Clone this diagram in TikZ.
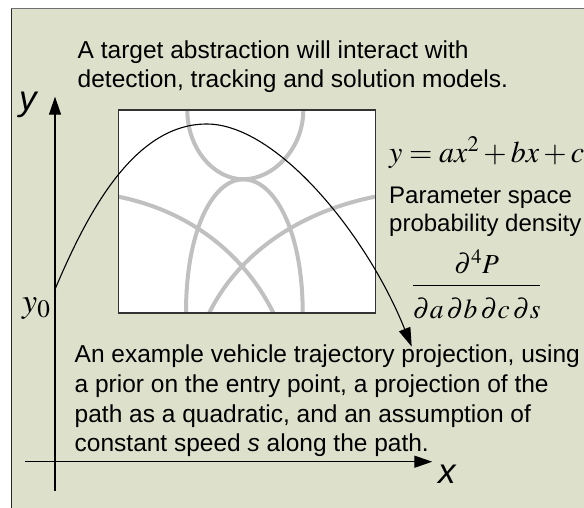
\documentclass[tikz,border=0pt]{standalone}
\usepackage{mathptmx}
\usepackage{fontspec}
\setmainfont{Liberation Sans}
\usetikzlibrary{arrows.meta,positioning}
\definecolor{pbg}{HTML}{DDE0CB}
\definecolor{pgrid}{HTML}{C0C0C0}
\definecolor{pframe}{HTML}{707070}
\tikzset{
  txt/.style={font=\fontsize{24.5}{28.4}\selectfont,align=left,inner sep=0,anchor=base west},
  axis/.style={-{Triangle[length=18pt,width=12pt]},line width=1.3pt},
  band/.style={draw=pgrid,line width=4pt},
  traj/.style={-{Triangle[length=19pt,width=12pt]},line width=1.1pt},
  eqn/.style={inner sep=0},
  lab/.style={font=\fontsize{35}{40}\selectfont\itshape,inner sep=0,anchor=base west},
}

\begin{document}
\begin{tikzpicture}[x=1pt,y=-1pt]
  \useasboundingbox (0,0) rectangle (584,507);
  % --- frame
  \fill[pbg] (11,8.5) rectangle (590,512);
  \draw[pframe,line width=1.3pt] (11,8.5) -- (590,8.5);
  \draw[black!85,line width=1pt] (11.5,8.5) -- (11.5,512);
  % --- parameter space
  \node[fill=white,minimum width=256.7pt,minimum height=202.7pt,inner sep=0,anchor=north west] (pspace) at (118.3,110) {};
  \draw[band] (187.3,110) .. controls (187.3,150) and (215,179.3) .. (243.3,179.3) .. controls (272,179.3) and (303.3,150) .. (303.3,110);
  \draw[band] (186,312.7) .. controls (186,230) and (213,179.3) .. (243.3,179.3) .. controls (274,179.3) and (302.7,230) .. (302.7,312.7);
  \draw[band] (118.3,196.7) .. controls (188.3,210.7) and (243.3,252.7) .. (273.3,312.7);
  \draw[band] (375,196.7) .. controls (300,211.7) and (239.3,252.7) .. (209.3,312.7);
  \draw[black!80,line width=1.3pt] (pspace.north west) rectangle (pspace.south east);
  % --- axes
  \coordinate (yfoot) at (55,490.7);
  \coordinate (ytop) at (55,96.7);
  \coordinate (xfoot) at (25.3,461.7);
  \coordinate (xtip) at (432.3,461.7);
  \draw[axis] (yfoot) -- (ytop);
  \draw[axis] (xfoot) -- (xtip);
  \node[lab] (ylab) at (19,110) {y};
  \node[lab] (xlab) at (438,483.3) {x};
  \node[eqn,font=\fontsize{34}{38}\selectfont,anchor=base west] (yzero) at (22,312.7) {$y_0$};
  % --- texts
  \node[txt] (intro) at (77.5,87.3) {A target abstraction will interact with\\detection, tracking and solution models.};
  \node[eqn,font=\fontsize{30}{34}\selectfont,anchor=base west] (quad) at (389,162) {$y = ax^2 + bx + c$};
  \node[txt,font=\fontsize{24}{28.4}\selectfont] (density) at (389,231.7) {Parameter space\\probability density};
  \node[eqn,font=\fontsize{27.5}{32}\selectfont,anchor=base] (frac) at (476.7,292) {$\displaystyle\frac{\partial^4 P}{\rule{0pt}{30pt}\partial a\,\partial b\,\partial c\,\partial s}$};
  \node[txt,font=\fontsize{24.5}{29.6}\selectfont] (example) at (74.5,451.7) {An example vehicle trajectory projection, using\\a prior on the entry point, a projection of the\\path as a quadratic, and an assumption of\\constant speed \textit{s} along the path.};
  % --- trajectory
  \coordinate (entry) at (55,289.3);
  \coordinate (tip) at (411.7,346.7);
  \draw[traj] (entry) .. controls (85,218.8) and (131.7,124) .. (206.7,124) .. controls (276.7,124) and (366.7,234.2) .. (tip);
\end{tikzpicture}
\end{document}
